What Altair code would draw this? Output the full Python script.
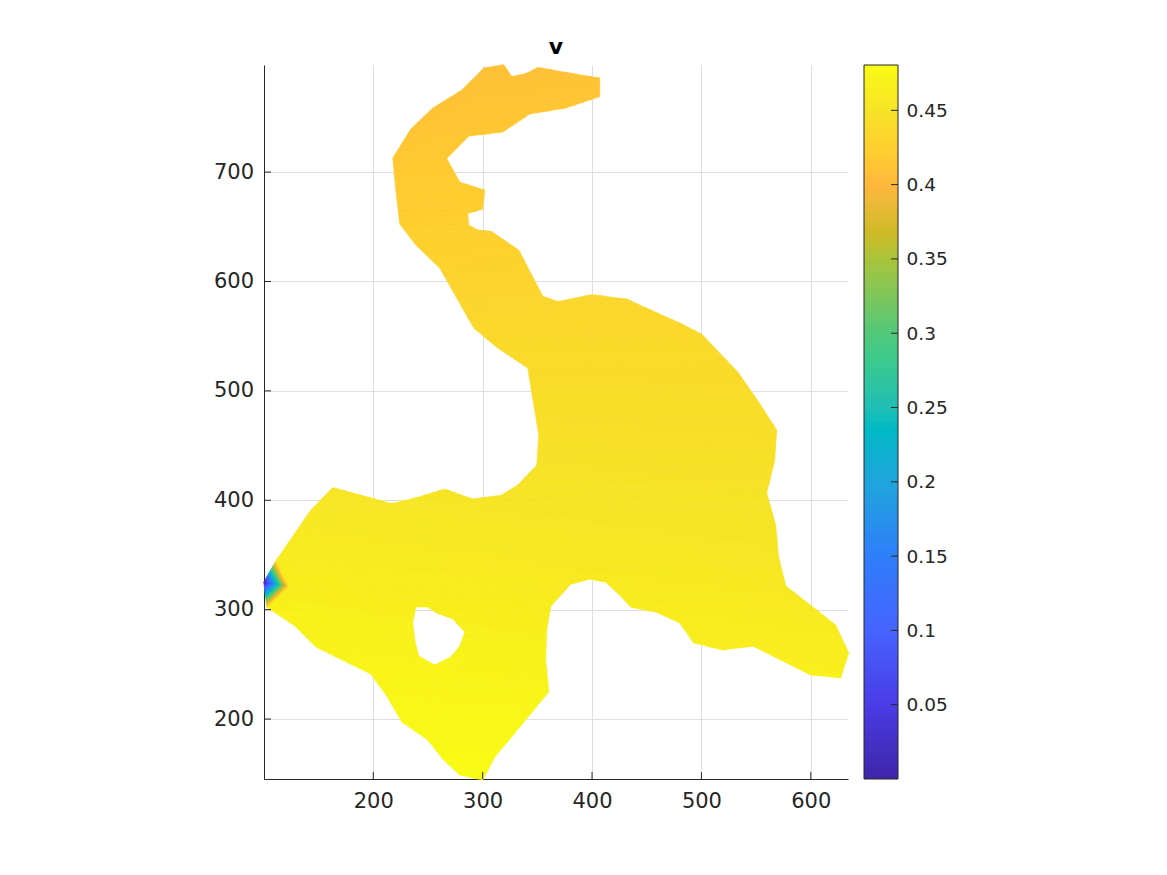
import altair as alt
import numpy as np
import pandas as pd

# outline and hole, in data units
outline_px = [(484,68),(504,64.5),(512,76.5),(526,73.5),(538,67.5),(570,73),(600,78),(600,96.5),(566,108),(530,114),
 (503,132),(469,136),(447,158.5),(460,182),(485,190),(483,209),(468,213.5),(469,225),(478,230),(492,231.5),
 (519,250),(543,296),(558,301.5),(592,294.5),(627,299),(680,323),(702,334),(738,372),(759,402),(777,430),
 (775,460),(767,493),(776,525),(779,558),(786,586),(836,625),(849,653),(841,678),(811,675),(782,660.5),
 (753,646),(723,650),(694,643),(680,623),(656,612),(631,607),(620,595),(606,582),(590,579),(571,584),
 (551,606),(547,630),(546,660),(549,692),(520,727),(495,757),(483,780),(460,775),(443,759),(428,740),
 (402,722),(387,696),(371,674),(316,647),(295,626),(267,607),(264,582),(276,561),(311,510),(333,487.5),
 (392,503.5),(415,498),(445,489),(473,499),(502,495),(518,485),(537,465),(539,435),(528,368),(498,348),
 (474,328),(440,268),(417,246),(400,224),(396,190),(393,158),(411,129),(433,108),(462,90)]
hole_px = [(416,607),(428,607),(437,613),(453,619),(465,632),(460,646),(451,657),(435,665),(419,656),(415,640),(413,622)]
tip_px = [(264,582),(276,561),(289,586),(267,607)]

def to_data(p):
    return (200 + (p[0] - 373.5) / 1.094, 200 + (719 - p[1]) / 1.094)

outline = [to_data(p) for p in outline_px]
hole = [to_data(p) for p in hole_px]
tip = [to_data(p) for p in tip_px]

x_ticks = [200, 300, 400, 500, 600]
y_ticks = [200, 300, 400, 500, 600, 700]
cb_ticks = [0.05, 0.1, 0.15, 0.2, 0.25, 0.3, 0.35, 0.4, 0.45]
x_dom = [100.1, 634.0]
y_dom = [145.2, 797.9]
v_dom = [0.0, 0.4805]

cmap_v = [0.0, 0.05, 0.10, 0.15, 0.20, 0.235, 0.25, 0.28, 0.30, 0.35, 0.366, 0.385, 0.40, 0.42, 0.45, 0.4805]
cmap_c = ["#3E26A8", "#4A3BE6", "#4663FF", "#2F7EFA", "#1FA5DC", "#00B9C6", "#20BFB5", "#3AC98F", "#52C97A",
          "#A9C43B", "#CDBC27", "#E8B934", "#FFB83C", "#FFCB30", "#F7E327", "#F9FB15"]

# field: level read against height; iso-line slope read at a few heights
height_levels = [150, 250, 350, 450, 550, 650, 750, 810]
v_levels = [0.4805, 0.470, 0.458, 0.447, 0.437, 0.426, 0.414, 0.406]
slope_y = [150, 250, 350, 500, 650, 800]
slope_k = [0.0, 0.12, 0.14, 0.05, -0.15, -0.2]
tip_edge_v = 0.44

def field(x, y):
    h = y + float(np.interp(y, slope_y, slope_k)) * (x - 300)
    base = float(np.interp(h, height_levels, v_levels))
    a, b, c, d4 = tip
    for p1, p2 in ((b, c), (c, d4)):
        m = np.array([[p1[0]-a[0], p2[0]-a[0]], [p1[1]-a[1], p2[1]-a[1]]])
        s, t = np.linalg.solve(m, [x-a[0], y-a[1]])
        if s >= -1e-6 and t >= -1e-6 and s + t <= 1 + 1e-6:
            return 0.002 + (tip_edge_v - 0.002) * (s + t)
    return base

edges = []
for ring in (outline, hole):
    n = len(ring)
    for i in range(n):
        edges.append((ring[i], ring[(i + 1) % n]))

levels = sorted({round(p[1], 6) for p in outline + hole})
tip_lo, tip_hi = min(p[1] for p in tip), max(p[1] for p in tip)
tip_right = max(p[0] for p in tip)
rows = []
qid = 0
OV = 0.45
for lo, hi in zip(levels[:-1], levels[1:]):
    mid = (lo + hi) / 2
    near_tip = hi > tip_lo - 1 and lo < tip_hi + 1
    step = 0.9 if near_tip else 3.0
    nstr = max(1, int(np.ceil((hi - lo) / step)))
    ys = np.linspace(lo, hi, nstr + 1)
    cross = []
    for (p, q) in edges:
        if (p[1] - mid) * (q[1] - mid) < 0:
            slope = (q[0] - p[0]) / (q[1] - p[1])
            cross.append((p[0] + (mid - p[1]) * slope, p[0] - p[1] * slope, slope))
    cross.sort()
    for k in range(0, len(cross) - 1, 2):
        _, a0, s0 = cross[k]
        _, a1, s1 = cross[k + 1]
        for j in range(nstr):
            y0, y1 = ys[j], ys[j + 1]
            y1e = min(y1 + OV, hi)
            xl_m = a0 + s0 * (y0 + y1) / 2
            xr_m = a1 + s1 * (y0 + y1) / 2
            if near_tip and xl_m < tip_right + 1:
                cuts = list(np.arange(xl_m, min(tip_right + 1, xr_m), 0.9))
                cuts += list(np.arange(cuts[-1] + 12, xr_m, 12))
            else:
                cuts = list(np.arange(xl_m, xr_m, 12))
            cuts.append(xr_m)
            ts = [(c - xl_m) / (xr_m - xl_m) for c in cuts]
            for m in range(len(ts) - 1):
                t0, t1 = ts[m], ts[m + 1]
                t1e = min(t1 + 0.5 / (xr_m - xl_m), 1.0)
                xc = xl_m + (t0 + t1) / 2 * (xr_m - xl_m)
                val = field(xc, (y0 + y1) / 2)
                for yy in (y0, y1e):
                    xl = a0 + s0 * yy
                    xr = a1 + s1 * yy
                    rows.append((qid, yy, xl + t0 * (xr - xl), xl + t1e * (xr - xl), val))
                qid += 1

mesh = pd.DataFrame(rows, columns=["q", "y", "x", "x2", "v"])
W, H = 584, 714
AX = "#262626"
GRID = "#DFDFDF"
FS = 21
FONT = "DejaVu Sans"
scale = alt.Scale(domain=cmap_v, range=cmap_c, interpolate="rgb")
xs = alt.Scale(domain=x_dom, nice=False, zero=False)
ys_ = alt.Scale(domain=y_dom, nice=False, zero=False)

field_layer = alt.Chart(mesh).mark_area(orient="horizontal", interpolate="linear", strokeWidth=0.5).encode(
    x=alt.X("x:Q", scale=xs, title=None,
            axis=alt.Axis(values=x_ticks, grid=True, gridColor=GRID, gridWidth=1, ticks=False, domainColor=AX,
                          domainWidth=1, labelColor=AX, labelFontSize=FS, labelFont=FONT, labelPadding=11,
                          labelFlush=False)),
    x2="x2:Q",
    y=alt.Y("y:Q", scale=ys_, title=None,
            axis=alt.Axis(values=y_ticks, grid=True, gridColor=GRID, gridWidth=1, ticks=False, domainColor=AX,
                          domainWidth=1, labelColor=AX, labelFontSize=FS, labelFont=FONT, labelPadding=10.5,
                          labelFlush=False)),
    color=alt.Color("v:Q", scale=scale, legend=None),
    stroke=alt.Stroke("v:Q", scale=scale, legend=None),
    detail="q:N",
)
xt = pd.DataFrame({"x": x_ticks})
yt = pd.DataFrame({"y": y_ticks})
x_tick_layer = alt.Chart(xt).mark_rule(color=AX, strokeWidth=1).encode(
    x=alt.X("x:Q", scale=xs), y=alt.value(H), y2=alt.value(H - 7))
y_tick_layer = alt.Chart(yt).mark_rule(color=AX, strokeWidth=1).encode(
    y=alt.Y("y:Q", scale=ys_), x=alt.value(0), x2=alt.value(7))

main = alt.layer(field_layer, x_tick_layer, y_tick_layer).properties(
    width=W, height=H,
    title=alt.TitleParams("v", fontSize=22, font=FONT, fontWeight="bold", color="#000000", anchor="middle", offset=5),
)

cb_v = np.linspace(v_dom[0], v_dom[1], 129)
cb = pd.DataFrame({"v0": cb_v[:-1], "v1": np.minimum(cb_v[1:] + 0.001, v_dom[1]), "c": (cb_v[:-1] + cb_v[1:]) / 2})
cb_scale = alt.Scale(domain=v_dom, nice=False, zero=False)
cb_bars = alt.Chart(cb).mark_rect().encode(
    x=alt.value(0), x2=alt.value(34),
    y=alt.Y("v0:Q", scale=cb_scale, title=None,
            axis=alt.Axis(orient="right", values=cb_ticks, grid=False, ticks=False, domain=False, labelColor=AX,
                          labelFontSize=18.5, labelFont=FONT, labelPadding=8, labelFlush=False,
                          labelExpr="format(datum.value, '.2~f')")),
    y2="v1:Q",
    color=alt.Color("c:Q", scale=scale, legend=None),
)
cbt = pd.DataFrame({"v": cb_ticks})
cb_t = alt.Chart(cbt).mark_rule(color=AX, strokeWidth=1).encode(
    y=alt.Y("v:Q", scale=cb_scale), x=alt.value(27), x2=alt.value(34))
frame = alt.Chart(pd.DataFrame({"a": [0]})).mark_rect(filled=False, stroke=AX, strokeWidth=1).encode(
    x=alt.value(0), x2=alt.value(34), y=alt.value(0), y2=alt.value(H))
bar = alt.layer(cb_bars, cb_t, frame).properties(width=34, height=H)

chart = alt.hconcat(main, bar, spacing=13).resolve_scale(color="independent", y="independent").properties(
    padding={"left": 205, "top": 27, "right": 5, "bottom": 5},
    background="white",
).configure_view(stroke=None)
chart.save("out.html", embed_options={"renderer": "svg", "actions": False})
